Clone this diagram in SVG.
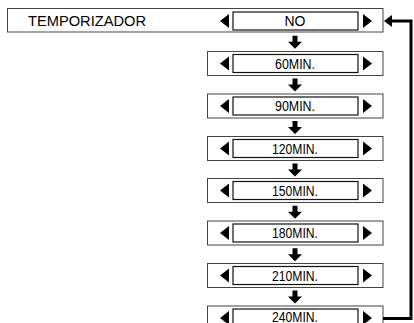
<svg xmlns="http://www.w3.org/2000/svg" width="414" height="323" viewBox="0 0 414 323">
<style>
.outer{fill:none;stroke:#444;stroke-width:1}
.inner{fill:#fff;stroke:#111;stroke-width:1.2}
.tri{fill:#000}
.lbl{font-family:"Liberation Sans",Arial,sans-serif;font-size:14px;fill:#000;text-anchor:middle}
.title{font-family:"Liberation Sans",Arial,sans-serif;font-size:14px;fill:#000}
.link{fill:none;stroke:#000;stroke-width:3}
.head{fill:#000}
</style>
<defs>
<g id="selL"><polygon class="tri" points="220,0 229,-7 229,7"/></g>
<g id="selR"><polygon class="tri" points="363,-7 363,7 372,0"/></g>
<g id="down"><path class="head" d="M292.5,-6 H297.5 V0 H302 L295,7 L288,0 H292.5 Z"/></g>
</defs>
<rect width="414" height="323" fill="#fff"/>
<g id="row-no">
<rect class="outer" x="7.5" y="8.5" width="375.5" height="23.5"/>
<text class="title" x="28" y="26" textLength="118" lengthAdjust="spacingAndGlyphs">TEMPORIZADOR</text>
<rect class="inner" x="233" y="12" width="125" height="18"/>
<use href="#selL" transform="translate(0,21)"/>
<use href="#selR" transform="translate(0,21)"/>
<text class="lbl" x="295" y="26">NO</text>
</g>
<g id="row-60">
<rect class="outer" x="207.5" y="51.5" width="175.5" height="24"/>
<rect class="inner" x="233" y="54.5" width="125" height="18"/>
<use href="#selL" transform="translate(0,63.5)"/>
<use href="#selR" transform="translate(0,63.5)"/>
<text class="lbl" x="295" y="68.5" textLength="40" lengthAdjust="spacingAndGlyphs">60MIN.</text>
</g>
<g id="row-90">
<rect class="outer" x="207.5" y="94" width="175.5" height="24"/>
<rect class="inner" x="233" y="97" width="125" height="18"/>
<use href="#selL" transform="translate(0,106)"/>
<use href="#selR" transform="translate(0,106)"/>
<text class="lbl" x="295" y="111" textLength="40" lengthAdjust="spacingAndGlyphs">90MIN.</text>
</g>
<g id="row-120">
<rect class="outer" x="207.5" y="136.5" width="175.5" height="24"/>
<rect class="inner" x="233" y="139.5" width="125" height="18"/>
<use href="#selL" transform="translate(0,148.5)"/>
<use href="#selR" transform="translate(0,148.5)"/>
<text class="lbl" x="295" y="153.5" textLength="46" lengthAdjust="spacingAndGlyphs">120MIN.</text>
</g>
<g id="row-150">
<rect class="outer" x="207.5" y="178.5" width="175.5" height="24"/>
<rect class="inner" x="233" y="181.5" width="125" height="18"/>
<use href="#selL" transform="translate(0,190.5)"/>
<use href="#selR" transform="translate(0,190.5)"/>
<text class="lbl" x="295" y="195.5" textLength="46" lengthAdjust="spacingAndGlyphs">150MIN.</text>
</g>
<g id="row-180">
<rect class="outer" x="207.5" y="221" width="175.5" height="24"/>
<rect class="inner" x="233" y="224" width="125" height="18"/>
<use href="#selL" transform="translate(0,233)"/>
<use href="#selR" transform="translate(0,233)"/>
<text class="lbl" x="295" y="238" textLength="46" lengthAdjust="spacingAndGlyphs">180MIN.</text>
</g>
<g id="row-210">
<rect class="outer" x="207.5" y="263.5" width="175.5" height="24"/>
<rect class="inner" x="233" y="266.5" width="125" height="18"/>
<use href="#selL" transform="translate(0,275.5)"/>
<use href="#selR" transform="translate(0,275.5)"/>
<text class="lbl" x="295" y="280.5" textLength="46" lengthAdjust="spacingAndGlyphs">210MIN.</text>
</g>
<g id="row-240">
<rect class="outer" x="207.5" y="306" width="175.5" height="24"/>
<rect class="inner" x="233" y="309" width="125" height="18"/>
<use href="#selL" transform="translate(0,318)"/>
<use href="#selR" transform="translate(0,318)"/>
<text class="lbl" x="295" y="321.5" textLength="46" lengthAdjust="spacingAndGlyphs">240MIN.</text>
</g>
<g id="connectors">
<use href="#down" transform="translate(0,41.7)"/>
<use href="#down" transform="translate(0,84.6)"/>
<use href="#down" transform="translate(0,127)"/>
<use href="#down" transform="translate(0,169.4)"/>
<use href="#down" transform="translate(0,211.8)"/>
<use href="#down" transform="translate(0,254.2)"/>
<use href="#down" transform="translate(0,296.6)"/>
<path class="link" d="M383,318.5 H411 V21 H390"/>
<polygon class="head" points="384,21 392,15 392,27"/>
</g>
</svg>
